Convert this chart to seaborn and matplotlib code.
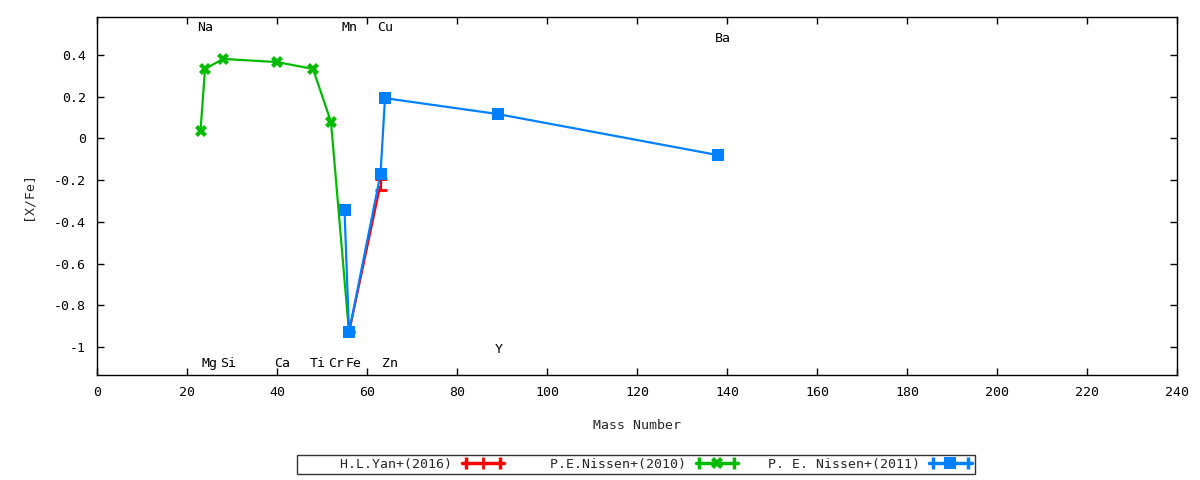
import numpy as np
import pandas as pd
import matplotlib
matplotlib.use("Agg")
import matplotlib.pyplot as plt
import seaborn as sns
from matplotlib.lines import Line2D
from matplotlib.legend_handler import HandlerLine2D, HandlerTuple

# ---- data ----
yan_mass = [56, 63]
yan_val = [-0.93, -0.22]
yan_err = [0.0, 0.025]

nis10_mass = [23, 24, 28, 40, 48, 52, 56]
nis10_val = [0.035, 0.333, 0.381, 0.366, 0.333, 0.079, -0.93]

nis11_mass = [55, 56, 63, 64, 89, 138]
nis11_val = [-0.343, -0.928, -0.171, 0.193, 0.117, -0.080]

label_names = ["Na", "Mn", "Cu", "Ba", "Mg", "Si", "Ca", "Ti", "Cr", "Fe", "Zn", "Y"]
label_mass = [23, 55, 63, 138, 24, 28, 40, 48, 52, 56, 64, 89]
label_y = [0.53, 0.53, 0.53, 0.48, -1.08, -1.08, -1.08, -1.08, -1.08, -1.08, -1.08, -1.01]

legend_names = ["H.L.Yan+(2016)", "P.E.Nissen+(2010)", "P. E. Nissen+(2011)"]
colors = ["#ff0000", "#00bb00", "#0080ff"]

x_ticks = list(range(0, 241, 20))
y_ticks = [0.4, 0.2, 0, -0.2, -0.4, -0.6, -0.8, -1]
y_tick_labels = ["0.4", "0.2", "0", "-0.2", "-0.4", "-0.6", "-0.8", "-1"]

# ---- plot ----
sns.set_theme(style="white")
plt.rcParams["font.family"] = ["DejaVu Sans Mono", "DejaVu Sans"]
plt.rcParams["font.size"] = 9.5

fig = plt.figure(figsize=(12, 4.8), dpi=100)
ax = fig.add_axes([97 / 1200, 105 / 480, 1080 / 1200, 358 / 480])

df_yan = pd.DataFrame({"mass": yan_mass, "val": yan_val})
df_10 = pd.DataFrame({"mass": nis10_mass, "val": nis10_val})
df_11 = pd.DataFrame({"mass": nis11_mass, "val": nis11_val})

# red
sns.lineplot(data=df_yan, x="mass", y="val", ax=ax, color=colors[0], lw=1.6,
             marker="+", markersize=9, markeredgewidth=2, sort=False, legend=False)
ax.errorbar(yan_mass, yan_val, yerr=yan_err, fmt="none", ecolor=colors[0],
            elinewidth=1.6, capsize=4, capthick=2)
# green
sns.lineplot(data=df_10, x="mass", y="val", ax=ax, color=colors[1], lw=1.6,
             marker="X", markersize=9, markeredgewidth=0, sort=False, legend=False)
# blue
sns.lineplot(data=df_11, x="mass", y="val", ax=ax, color=colors[2], lw=1.6,
             marker="s", markersize=8, markeredgewidth=0, sort=False, legend=False)

for name, m, yy in zip(label_names, label_mass, label_y):
    ax.text(m - 0.7, yy, name, ha="left", va="center", fontsize=9.5, color="black")

ax.set_xlim(0, 240)
ax.set_ylim(-1.134, 0.582)
ax.set_xticks(x_ticks)
ax.set_xticklabels([str(t) for t in x_ticks])
ax.set_yticks(y_ticks)
ax.set_yticklabels(y_tick_labels)
ax.tick_params(direction="in", length=5, width=1, top=True, right=True,
               bottom=True, left=True, labelsize=9.5, pad=8, colors="black")
for s in ax.spines.values():
    s.set_color("black")
    s.set_linewidth(1)
ax.set_xlabel("Mass Number", fontsize=9.5, labelpad=14)
ax.set_ylabel("[X/Fe]", fontsize=9.5, labelpad=14)
ax.grid(False)

# legend handles mimicking gnuplot errorline samples
handles = []
hmap = {}
for c, mk, ms in zip(colors, ["+", "X", "s"], [9, 9, 8]):
    ln = Line2D([], [], color=c, lw=2.5, marker=mk, markersize=ms,
                markeredgewidth=2 if mk == "+" else 0)
    caps = Line2D([], [], color=c, marker="|", markersize=8, markeredgewidth=2.5, ls="none")
    hmap[caps] = HandlerLine2D(numpoints=2)
    handles.append((ln, caps))
hmap[tuple] = HandlerTuple(ndivide=1, pad=0)

width = max(len(n) for n in legend_names)
padded = [n.rjust(width) for n in legend_names]

leg = fig.legend(handles, padded, handler_map=hmap, loc="center",
                 bbox_to_anchor=(636 / 1200, 1 - 464.5 / 480),
                 ncol=3, frameon=True, fancybox=False, markerfirst=False,
                 handlelength=3.2, columnspacing=2.3, handletextpad=0.7,
                 borderpad=0.25, fontsize=9.5, edgecolor="black")
leg.get_frame().set_linewidth(1)
fig.savefig("out.png", dpi=100)
